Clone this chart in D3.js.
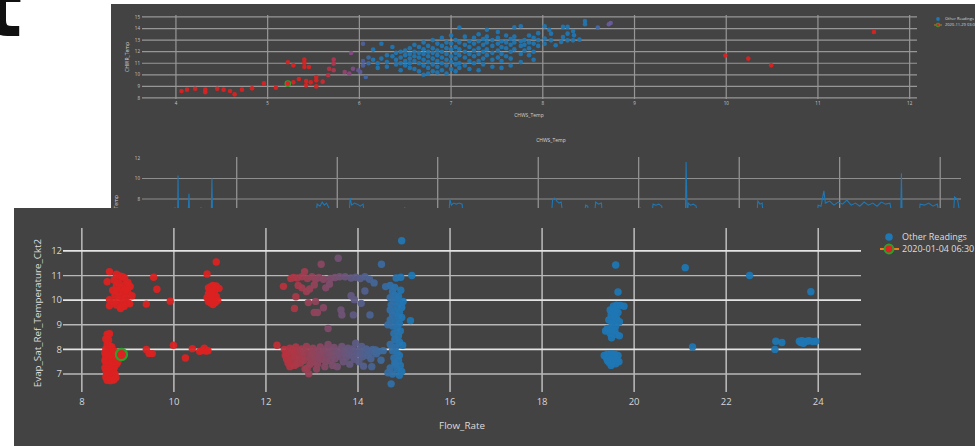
<!DOCTYPE html>
<html><head><meta charset="utf-8">
<script src="https://cdn.jsdelivr.net/npm/d3@7"></script>
<style>body{margin:0;background:#fff;overflow:hidden}svg{display:block}</style>
</head><body>
<svg id="c" width="975" height="446"></svg>
<script>
// ---------------- DATA ----------------
// Top scatter (CHWS_Temp vs CHWR_Temp)
const topXTicks = [4,5,6,7,8,9,10,11,12];
const topYTicks = [8,9,10,11,12,13,14,15];
const topRed = [[4.06,8.6],[4.12,8.72],[4.21,8.8],[4.32,8.72],[4.32,8.49],[4.45,8.8],[4.52,8.72],[4.59,8.6],[4.64,8.31],[4.72,8.72],[4.83,8.83],[4.96,9.27],[5.09,8.89],[5.22,11.08],[5.28,10.82],[5.28,9.35],[5.34,9.64],[5.40,11.31],[5.40,11.02],[5.40,10.68],[5.45,10.68],[5.42,9.47],[5.42,9.09],[5.47,9.35],[5.53,9.81],[5.53,9.52],[5.53,9.0],[5.60,9.41],[5.66,9.96],[9.99,11.66],[10.24,11.40],[10.49,10.82],[11.61,13.70]];
const topTransition = [[5.67,10.53],[5.72,10.39],[5.72,11.31],[5.72,10.97],[5.84,10.24],[5.89,10.1],[5.93,10.53],[5.99,10.39],[6.01,10.24],[6.07,9.81],[5.91,11.89]];
const topBlueColumns = [
 [6.04,[12.69,11.2,10.8]],[6.1,[11.5,11.0]],[6.15,[12.18,11.3]],[6.2,[11.0,10.6]],[6.24,[12.69,11.4]],
 [6.3,[11.7,11.1,10.7]],[6.36,[12.41,11.6]],[6.4,[11.9,11.3,10.9]],[6.45,[12.0,11.5,11.0,10.4]],
 [6.5,[12.1,11.7,11.2,10.8]],[6.55,[12.3,11.8,11.4,11.0,10.6]],[6.6,[12.6,12.0,11.6,11.2,10.5]],
 [6.65,[12.4,11.9,11.5,11.0,10.3]],[6.7,[12.8,12.2,11.8,11.3,10.8,10.0]],[6.75,[12.5,12.0,11.6,11.1,10.6,10.1]],
 [6.8,[13.0,12.3,11.9,11.4,10.9,10.3]],[6.85,[12.7,12.1,11.7,11.2,10.7,10.2]],[6.9,[13.2,12.5,12.0,11.5,11.0,10.4]],
 [6.95,[12.8,12.3,11.8,11.3,10.8,10.1]],[7.0,[13.4,12.7,12.2,11.6,11.1,10.5]],[7.05,[13.0,12.4,11.9,11.4,10.9,10.3]],
 [7.09,[14.08,12.8,12.2,11.7,11.0,10.6]],[7.15,[13.3,12.6,12.0,11.5,10.8]],[7.2,[12.9,12.4,11.8,11.2,10.5]],
 [7.25,[13.2,12.7,12.1,11.6,11.0]],[7.3,[13.5,12.9,12.3,11.8,11.2,10.4]],[7.35,[13.1,12.6,12.0,11.4,10.9]],
 [7.39,[13.9,13.3,12.8,12.2,11.7]],[7.45,[13.0,12.5,11.9,11.3,10.7]],[7.51,[13.7,13.2,12.7,12.1,11.5]],
 [7.55,[12.9,12.4,11.8,11.2,10.6]],[7.6,[13.4,12.8,12.3,11.6]],[7.65,[13.1,12.6,12.0,11.4,10.8]],
 [7.69,[14.1,13.3,12.8,12.2]],[7.76,[14.2,12.9,12.5,11.8,11.1]],[7.8,[13.0,12.6,12.1]],
 [7.85,[13.4,12.8,12.3,11.7]],[7.9,[13.2,12.7,12.0,11.3]],[7.95,[13.6,13.0,12.5]],
 [8.02,[14.19,13.13,12.69]],[8.07,[13.9]],[8.09,[13.56,12.98]],[8.14,[12.55]],[8.2,[12.84]],
 [8.22,[14.14,13.27]],[8.27,[14.14,13.56,12.98]],[8.33,[12.98,13.79]],[8.34,[13.41]],[8.40,[13.04]],
 [8.46,[14.65,14.37]],[8.60,[14.08]],[8.72,[14.37]],[8.74,[14.48]]
];
const topHighlight = [5.22, 9.24];
const topLegendLabels = ["Other Readings", "2020-11-29 03:00"];

// Middle line chart (CHWS_Temp over time, days)
const lineXTicks = [0,7,14,21,28,35,42,49];
const lineYTicks = [8,10,12];
const chwsSeries = [
 [-6.6,6.0],[-4.4,6.0],[-4.3,7.2],[-4.2,6.0],[-4.12,6.0],[-4.09,10.3],[-4.05,6.0],[-3.4,6.0],[-3.33,8.5],[-3.27,6.0],
 [-2.55,6.0],[-2.49,7.2],[-2.43,6.0],[-1.78,6.0],[-1.73,10.0],[-1.68,6.0],
 [5.5,6.0],[5.6,7.5],[5.8,7.3],[5.95,7.7],[6.1,7.4],[6.25,7.6],[6.4,7.2],[6.55,6.0],
 [7.8,6.0],[7.9,8.1],[8.0,7.4],[8.2,7.6],[8.4,7.5],[8.6,7.3],[8.8,7.5],[8.95,6.0],
 [11.6,6.0],[11.7,7.2],[11.8,6.0],
 [14.75,6.0],[14.85,8.0],[14.95,7.4],[15.1,7.6],[15.3,7.5],[15.5,7.6],[15.7,7.5],[15.8,6.0],
 [18.9,6.0],[19.0,7.1],[19.1,6.0],
 [21.9,6.0],[22.0,7.9],[22.15,8.1],[22.3,7.8],[22.45,7.6],[22.6,7.7],[22.75,6.0],
 [24.2,6.0],[24.3,7.4],[24.45,7.3],[24.55,6.0],[24.9,6.0],[25.0,7.7],[25.2,7.5],[25.4,7.6],[25.5,6.0],
 [28.0,6.0],[28.1,7.2],[28.2,6.0],
 [28.9,6.0],[29.0,7.5],[29.2,7.4],[29.4,7.5],[29.6,7.3],[29.75,6.0],
 [31.25,6.0],[31.3,11.6],[31.38,6.0],[31.45,7.6],[31.6,7.4],[31.8,7.5],[32.0,7.3],[32.1,6.0],
 [36.2,6.0],[36.3,7.8],[36.45,7.5],[36.6,7.6],[36.7,6.0],
 [40.4,6.0],[40.5,7.4],[40.7,7.3],[40.9,8.8],[41.0,7.6],[41.3,7.8],[41.6,7.4],[41.9,7.7],[42.2,7.5],[42.5,7.9],
 [42.8,7.4],[43.1,7.6],[43.4,7.3],[43.7,7.7],[44.0,7.4],[44.3,7.6],[44.6,7.3],[44.9,7.7],[45.2,7.5],[45.5,7.6],[45.7,6.0],
 [46.25,6.0],[46.3,10.5],[46.35,6.0],
 [47.5,6.0],[47.6,7.5],[47.9,7.4],[48.2,7.6],[48.5,7.3],[48.8,7.5],[49.0,6.0],
 [49.9,6.0],[50.0,8.2],[50.2,8.0],[50.45,6.0]
];

// Main scatter (Flow_Rate vs Evap_Sat_Ref_Temperature_Ckt2)
const mainXTicks = [8,10,12,14,16,18,20,22,24];
const mainYTicks = [7,8,9,10,11,12];
const redLowStrip = [[8.55,8.62],[8.6,8.64],[8.52,8.42],[8.58,8.38],[8.55,8.2],[8.6,8.15],[8.65,8.1],[8.52,8.02],[8.58,7.98],[8.63,7.95],[8.68,7.9],[8.5,7.85],[8.56,7.82],[8.62,7.8],[8.7,7.75],[8.52,7.7],[8.58,7.65],[8.64,7.62],[8.72,7.6],[8.5,7.55],[8.56,7.5],[8.62,7.48],[8.68,7.45],[8.76,7.42],[8.53,7.4],[8.59,7.35],[8.65,7.3],[8.71,7.28],[8.5,7.25],[8.56,7.2],[8.62,7.18],[8.68,7.15],[8.53,7.1],[8.6,7.05],[8.66,7.02],[8.72,7.0],[8.55,6.98],[8.62,6.92],[8.68,6.9],[8.52,6.88],[8.58,6.82],[8.64,6.8],[8.7,6.78],[8.55,6.75],[8.62,6.73],[8.68,6.76],[8.74,6.85],[8.78,7.55],[8.8,7.65],[8.74,7.72],[8.72,7.92],[8.78,7.5]];
const redHighCluster = [[8.6,11.16],[8.75,11.05],[8.82,10.98],[8.88,10.95],[8.93,10.9],[8.55,10.75],[8.7,10.82],[8.8,10.7],[8.95,10.65],[9.02,10.6],[8.75,10.58],[8.85,10.52],[8.98,10.5],[9.05,10.55],[8.67,10.4],[8.78,10.38],[8.9,10.35],[9.0,10.3],[9.09,10.18],[8.72,10.2],[8.85,10.15],[8.95,10.1],[8.6,10.02],[8.8,10.0],[8.9,9.95],[9.0,9.9],[9.04,9.85],[8.6,9.77],[8.75,9.8],[8.85,9.72],[8.84,9.66],[8.92,9.75],[8.68,9.92],[8.95,10.42],[9.0,10.72]];
const redScattered = [[9.4,9.84],[9.56,10.93],[9.63,10.44],[9.92,9.96],[9.4,8.0],[9.46,7.83],[9.53,7.83],[9.99,8.17],[10.25,7.65],[10.4,8.03],[10.56,7.92],[10.62,7.95],[10.66,8.05],[10.7,7.93],[10.74,7.95],[10.72,11.06],[10.92,11.55]];
const redCluster11 = [[10.75,10.5],[10.8,10.55],[10.85,10.6],[10.92,10.58],[10.98,10.48],[10.78,10.4],[10.85,10.35],[10.9,10.42],[10.75,10.25],[10.82,10.2],[10.88,10.28],[10.72,10.1],[10.78,10.05],[10.86,10.1],[10.92,10.15],[10.75,9.95],[10.8,9.88],[10.85,9.82],[10.9,9.9],[10.95,10.0],[10.82,9.98]];
const midUpper = [[14.95,12.41],[13.57,11.7],[13.2,11.46],[14.51,11.46],[12.84,11.16],[12.54,10.88],[12.6,10.92],[12.68,10.9],[12.78,10.95],[12.9,10.88],[13.0,10.95],[13.08,10.85],[13.15,10.92],[13.25,10.85],[13.4,10.88],[13.5,10.92],[13.6,10.95],[13.72,10.95],[13.85,10.9],[13.95,10.93],[14.05,10.88],[14.15,10.95],[14.25,10.85],[14.35,10.7],[12.38,10.56],[12.7,10.6],[12.78,10.5],[12.88,10.35],[12.95,10.45],[13.05,10.62],[13.3,10.5],[13.38,10.65],[12.65,10.14],[12.92,9.9],[13.08,9.95],[12.62,9.66],[13.05,9.5],[13.12,9.5],[13.25,9.69],[13.63,9.6],[13.65,9.4],[13.85,10.18],[13.92,10.02],[14.07,9.87],[13.9,9.4],[14.26,9.4],[14.15,10.37],[13.35,8.85]];
const midLower = [[12.24,8.17],[12.4,8.0],[12.42,7.75],[12.45,7.6],[12.5,7.9],[12.52,8.05],[12.55,7.7],[12.58,7.5],[12.6,7.85],[12.62,7.35],[12.65,8.1],[12.68,7.62],[12.7,7.95],[12.72,7.8],[12.75,7.45],[12.78,8.02],[12.8,7.7],[12.82,7.55],[12.85,7.88],[12.88,8.12],[12.9,7.25],[12.93,7.01],[12.95,7.65],[12.98,7.9],[13.0,7.8],[13.02,8.05],[13.05,7.5],[13.08,7.72],[13.1,7.95],[13.12,7.4],[13.15,7.85],[13.18,8.1],[13.2,7.6],[13.22,7.78],[13.25,7.9],[13.28,7.3],[13.3,8.02],[13.32,7.7],[13.35,8.2],[13.38,7.85],[13.4,7.55],[13.42,7.95],[13.45,7.75],[13.48,8.08],[13.5,7.62],[13.52,7.88],[13.55,7.3],[13.58,7.8],[13.6,7.98],[13.62,7.7],[13.65,8.12],[13.68,7.5],[13.7,7.85],[13.72,7.95],[13.75,7.68],[13.78,8.05],[13.8,7.78],[13.82,7.4],[13.85,7.9],[13.88,8.02],[13.9,7.72],[13.92,7.6],[13.95,8.25],[13.98,7.85],[14.0,7.95],[14.02,7.5],[14.05,7.8],[14.08,8.12],[14.1,7.7],[14.12,7.32],[14.15,7.88],[14.18,8.02],[14.2,7.75],[14.22,7.95],[14.25,7.85],[14.28,7.62],[14.3,7.3],[14.32,8.0],[14.35,7.9],[14.38,7.98],[14.4,7.82],[14.45,7.92],[14.5,7.56],[14.55,7.95],[12.45,7.82],[12.55,7.92],[12.62,7.72],[12.72,7.6],[12.58,8.0],[12.48,7.45],[12.66,7.4],[12.52,7.3],[12.85,7.2],[12.96,7.4],[13.1,7.2],[13.45,7.35],[13.15,7.65],[13.3,7.5]];
const blueColumn15 = [[14.83,10.9],[14.93,10.93],[15.17,11.0],[14.6,10.55],[14.7,10.6],[14.8,10.52],[14.75,10.35],[14.8,10.2],[14.85,10.05],[14.78,9.95],[14.9,9.9],[14.72,9.8],[14.85,9.75],[14.95,9.7],[14.7,9.6],[14.8,9.55],[14.9,9.5],[14.75,9.4],[14.88,9.35],[14.95,9.3],[14.7,9.2],[14.82,9.15],[15.14,9.17],[14.9,9.05],[14.75,8.95],[14.85,8.85],[14.92,8.75],[14.78,8.65],[14.88,8.55],[14.8,8.4],[14.9,8.3],[14.97,8.17],[14.82,8.1],[14.75,7.95],[14.85,7.85],[14.9,7.75],[14.78,7.65],[14.88,7.55],[14.8,7.45],[14.92,7.35],[14.7,7.25],[14.85,7.2],[14.95,7.1],[14.65,7.05],[14.75,7.0],[14.9,6.95],[14.72,6.6],[14.82,7.4],[14.93,10.4],[14.88,10.15],[14.98,9.95],[14.7,10.1],[14.65,9.0],[14.7,8.2]];
const blueCluster20 = [[19.6,11.43],[19.65,10.33],[19.55,9.75],[19.62,9.8],[19.7,9.78],[19.78,9.75],[19.48,9.6],[19.55,9.55],[19.6,9.6],[19.65,9.5],[19.5,9.4],[19.58,9.35],[19.62,9.25],[19.45,9.2],[19.55,9.15],[19.68,9.12],[19.52,9.05],[19.6,8.95],[19.42,8.85],[19.5,8.8],[19.58,8.78],[19.48,8.65],[19.62,8.6],[19.51,8.47],[19.68,8.55],[19.38,8.75],[19.35,7.75],[19.42,7.8],[19.5,7.83],[19.58,7.8],[19.65,7.75],[19.4,7.65],[19.48,7.6],[19.55,7.62],[19.62,7.58],[19.45,7.48],[19.52,7.45],[19.6,7.42],[19.5,7.35],[19.42,7.55],[19.67,7.5]];
const blueScattered = [[21.11,11.32],[21.27,8.1],[22.51,11.0],[23.84,10.34],[23.06,8.0],[23.08,8.33],[23.21,8.28],[23.59,8.33],[23.65,8.35],[23.7,8.3],[23.75,8.33],[23.8,8.35],[23.88,8.32],[23.95,8.33],[23.68,8.25],[23.62,8.28]];
const mainHighlight = [8.86, 7.79];
const mainLegendLabels = ["Other Readings", "2020-01-04 06:30"];

// ---------------- STYLE ----------------
const BG = "#434343", RED = "#dc2222", BLUE = "#1f77b4", GREEN = "#2ca02c", ORANGE = "#e8801a";
const FONT = "'Open Sans', 'DejaVu Sans', sans-serif";
const svg = d3.select("#c");

// cut-off glyph at top-left
svg.append("text").attr("x", -16).attr("y", 36).attr("font-family", "DejaVu Sans")
  .attr("font-weight", "bold").attr("font-size", 80).attr("fill", "#111").text("t");

// ---------- top screenshot panel ----------
svg.append("rect").attr("x", 111).attr("y", 4).attr("width", 864).attr("height", 204).attr("fill", BG);

const tx = d3.scaleLinear().domain([3.63, 12.08]).range([142, 917]);
const ty = d3.scaleLinear().domain([7.91, 15.17]).range([99, 15]);
const gTop = svg.append("g");
gTop.selectAll(".vg").data(topXTicks).join("line")
  .attr("x1", d => tx(d)).attr("x2", d => tx(d)).attr("y1", 15).attr("y2", 99)
  .attr("stroke", "#979797").attr("stroke-width", 1.2);
gTop.selectAll(".hg").data(topYTicks).join("line")
  .attr("x1", 142).attr("x2", 917).attr("y1", d => ty(d)).attr("y2", d => ty(d))
  .attr("stroke", "#979797").attr("stroke-width", 1.2);
gTop.selectAll(".xl").data(topXTicks).join("text")
  .attr("x", d => tx(d)).attr("y", 105).attr("text-anchor", "middle")
  .attr("font-family", FONT).attr("font-size", 4.5).attr("fill", "#c8c8c8").text(d => d);
gTop.selectAll(".yl").data(topYTicks).join("text")
  .attr("x", 140).attr("y", d => ty(d)).attr("dy", "0.35em").attr("text-anchor", "end")
  .attr("font-family", FONT).attr("font-size", 4.5).attr("fill", "#c8c8c8").text(d => d);
gTop.append("text").attr("x", 529).attr("y", 117).attr("text-anchor", "middle")
  .attr("font-family", FONT).attr("font-size", 5).attr("fill", "#d0d0d0").text("CHWS_Temp");
gTop.append("text").attr("transform", "translate(129,57) rotate(-90)").attr("text-anchor", "middle")
  .attr("font-family", FONT).attr("font-size", 5).attr("fill", "#d0d0d0").text("CHWR_Temp");

const topColor = d3.scaleLinear()
  .domain([5.55, 5.95, 6.15, 8.45, 8.75, 9.9])
  .range([RED, "#7a4f8e", BLUE, BLUE, "#6f5a9c", RED])
  .interpolate(d3.interpolateRgb).clamp(true);
const topBlue = topBlueColumns.flatMap(([x, ys]) => ys.map(y => [x, y]));
const topAll = [...topTransition, ...topBlue, ...topRed];
gTop.selectAll(".tp").data(topAll).join("circle")
  .attr("cx", d => tx(d[0])).attr("cy", d => ty(d[1])).attr("r", 2.3)
  .attr("fill", d => topColor(d[0])).attr("opacity", 0.92);
gTop.append("circle").attr("cx", tx(topHighlight[0])).attr("cy", ty(topHighlight[1])).attr("r", 2.8)
  .attr("fill", RED).attr("stroke", GREEN).attr("stroke-width", 1.1);
// top legend
gTop.append("circle").attr("cx", 938).attr("cy", 19).attr("r", 1.9).attr("fill", BLUE);
gTop.append("line").attr("x1", 934).attr("x2", 942).attr("y1", 25).attr("y2", 25).attr("stroke", ORANGE).attr("stroke-width", 0.8);
gTop.append("circle").attr("cx", 938).attr("cy", 25).attr("r", 1.9).attr("fill", RED).attr("stroke", GREEN).attr("stroke-width", 0.9);
gTop.selectAll(".tl").data(topLegendLabels).join("text")
  .attr("x", 945).attr("y", (d, i) => 19 + i * 6).attr("dy", "0.35em")
  .attr("font-family", FONT).attr("font-size", 4).attr("fill", "#d8d8d8").text(d => d);

// middle line chart
const lx = d3.scaleLinear().domain([-6.6, 50.45]).range([142, 961]);
const ly = d3.scaleLinear().domain([8, 12]).range([199, 158]);
const gLine = svg.append("g");
gLine.append("text").attr("x", 551).attr("y", 142).attr("text-anchor", "middle")
  .attr("font-family", FONT).attr("font-size", 5).attr("fill", "#d8d8d8").text("CHWS_Temp");
gLine.selectAll(".vg").data(lineXTicks).join("line")
  .attr("x1", d => lx(d)).attr("x2", d => lx(d)).attr("y1", 157).attr("y2", 210)
  .attr("stroke", "#a0a0a0").attr("stroke-width", 1.1);
gLine.selectAll(".hg").data([8, 10]).join("line")
  .attr("x1", 142).attr("x2", 961).attr("y1", d => ly(d)).attr("y2", d => ly(d))
  .attr("stroke", "#8e8e8e").attr("stroke-width", 1.2);
gLine.selectAll(".yl").data(lineYTicks).join("text")
  .attr("x", 140).attr("y", d => ly(d)).attr("dy", "0.35em").attr("text-anchor", "end")
  .attr("font-family", FONT).attr("font-size", 4.5).attr("fill", "#c8c8c8").text(d => d);
gLine.append("text").attr("transform", "translate(118,210) rotate(-90)").attr("text-anchor", "middle")
  .attr("font-family", FONT).attr("font-size", 5).attr("fill", "#d0d0d0").text("CHWS_Temp");
gLine.append("path").datum(chwsSeries)
  .attr("d", d3.line().x(d => lx(d[0])).y(d => ly(d[1])))
  .attr("fill", "none").attr("stroke", BLUE).attr("stroke-width", 1.1);

// ---------- bottom screenshot panel ----------
svg.append("rect").attr("x", 14).attr("y", 208).attr("width", 961).attr("height", 238).attr("fill", BG);
const mx = d3.scaleLinear().domain([7.59, 24.93]).range([63, 861]);
const my = d3.scaleLinear().domain([6.27, 12.93]).range([392, 228]);
const gMain = svg.append("g");
gMain.selectAll(".vg").data(mainXTicks).join("line")
  .attr("x1", d => mx(d)).attr("x2", d => mx(d)).attr("y1", 228).attr("y2", 392)
  .attr("stroke", "#d0d0d0").attr("stroke-width", 1.3);
gMain.selectAll(".hg").data(mainYTicks).join("line")
  .attr("x1", 63).attr("x2", 861).attr("y1", d => my(d)).attr("y2", d => my(d))
  .attr("stroke", d => d % 2 === 0 ? "#e4e4e4" : "#b8b8b8").attr("stroke-width", d => d % 2 === 0 ? 1.7 : 1.3);
gMain.selectAll(".xl").data(mainXTicks).join("text")
  .attr("x", d => mx(d)).attr("y", 405).attr("text-anchor", "middle")
  .attr("font-family", FONT).attr("font-size", 9.5).attr("fill", "#d6d6d6").text(d => d);
gMain.selectAll(".yl").data(mainYTicks).join("text")
  .attr("x", 62).attr("y", d => my(d)).attr("dy", "0.35em").attr("text-anchor", "end")
  .attr("font-family", FONT).attr("font-size", 9.5).attr("fill", "#d6d6d6").text(d => d);
gMain.append("text").attr("x", 462).attr("y", 429).attr("text-anchor", "middle")
  .attr("font-family", FONT).attr("font-size", 9.8).attr("fill", "#dcdcdc").text("Flow_Rate");
gMain.append("text").attr("transform", "translate(41,313) rotate(-90)").attr("text-anchor", "middle")
  .attr("font-family", FONT).attr("font-size", 9.8).attr("fill", "#dcdcdc").text("Evap_Sat_Ref_Temperature_Ckt2");

const mainColor = d3.scaleLinear().domain([11.8, 15.0]).range([RED, BLUE])
  .interpolate(d3.interpolateRgb).clamp(true);
const mainAll = [...blueCluster20, ...blueScattered, ...blueColumn15, ...midUpper, ...midLower,
  ...redCluster11, ...redScattered, ...redHighCluster, ...redLowStrip];
gMain.selectAll(".mp").data(mainAll).join("circle")
  .attr("cx", d => mx(d[0])).attr("cy", d => my(d[1])).attr("r", 3.7)
  .attr("fill", d => mainColor(d[0])).attr("opacity", 0.95);
gMain.append("circle").attr("cx", mx(mainHighlight[0])).attr("cy", my(mainHighlight[1])).attr("r", 5.6)
  .attr("fill", RED).attr("stroke", GREEN).attr("stroke-width", 2.2);

// bottom legend
gMain.append("circle").attr("cx", 889).attr("cy", 237).attr("r", 3.8).attr("fill", BLUE);
gMain.append("line").attr("x1", 880).attr("x2", 899).attr("y1", 249).attr("y2", 249).attr("stroke", ORANGE).attr("stroke-width", 2);
gMain.append("circle").attr("cx", 889).attr("cy", 249).attr("r", 4.4).attr("fill", RED).attr("stroke", GREEN).attr("stroke-width", 2);
gMain.selectAll(".ml").data(mainLegendLabels).join("text")
  .attr("x", 902).attr("y", (d, i) => 237 + i * 12).attr("dy", "0.35em")
  .attr("font-family", FONT).attr("font-size", 9).attr("fill", "#dedede").text(d => d);
</script>
</body></html>
